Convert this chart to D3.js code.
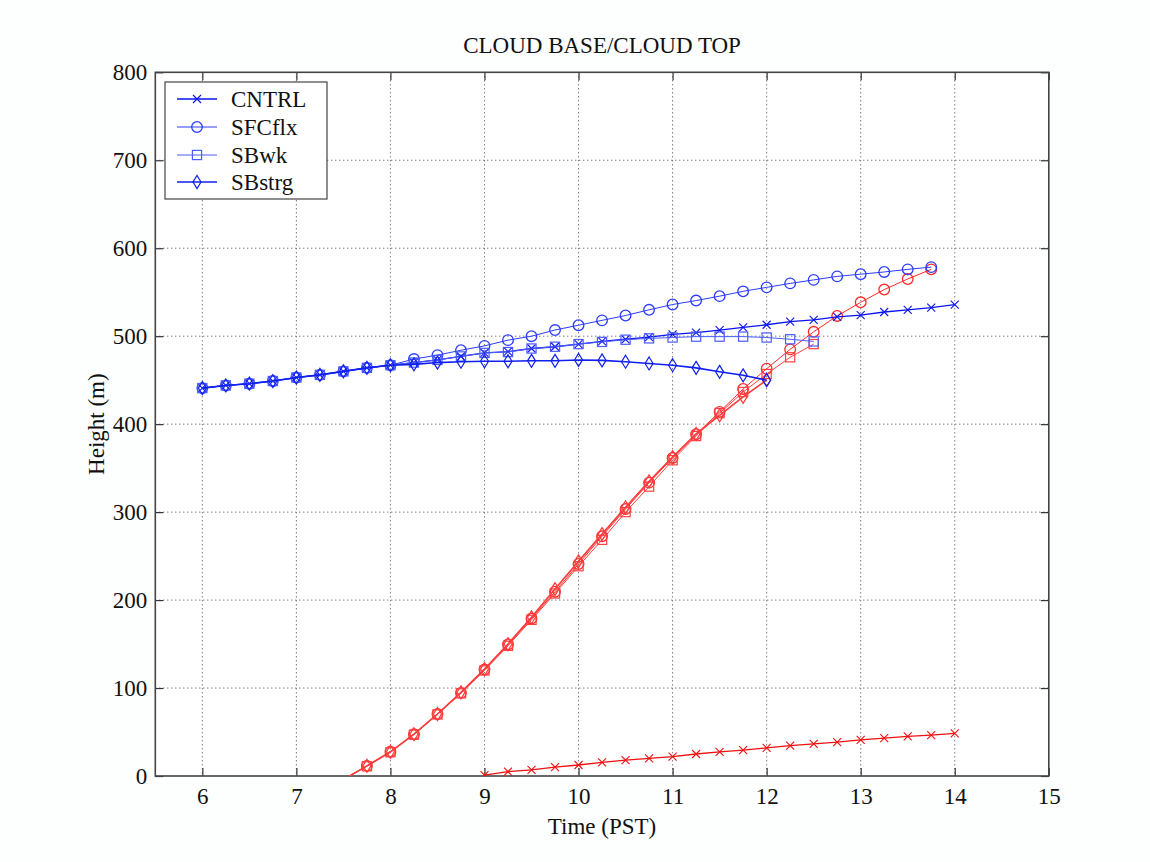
<!DOCTYPE html>
<html><head><meta charset="utf-8">
<script src="https://cdn.jsdelivr.net/npm/d3@7"></script>
<style>body{margin:0;background:#fdfefe}svg{display:block}</style>
</head><body><svg id="c" width="1150" height="862"></svg>
<script>
const times = [6,6.25,6.5,6.75,7,7.25,7.5,7.75,8,8.25,8.5,8.75,9,9.25,9.5,9.75,10,10.25,10.5,10.75,11,11.25,11.5,11.75,12,12.25,12.5,12.75,13,13.25,13.5,13.75,14];
const xTicks = [6,7,8,9,10,11,12,13,14,15];
const yTicks = [0,100,200,300,400,500,600,700,800];
const seriesNames = ["CNTRL","SFCflx","SBwk","SBstrg"];
const markers = ["x","o","s","d"];
const N = null;
// cloud top (blue)
const topCNTRL  = [441,444,446,449,453,456,460,464,467,470,473,477,481,482.5,486,488,491,494,496.5,499,502,504,507,510,513,516.5,518.5,522,524,527.5,530,532.5,536];
const topSFCflx = [441,444,446,449,453,456,460,464,467,474,478.5,484,489,495.5,500,507,512.5,518,523.5,530,536,540.5,545.5,551,555.5,560,564,568,570.5,573,576,578.5,N];
const topSBwk   = [441,444,446,449,453,456,460,464,467,470,473,477,481,482,486,488,491,493.5,496,497.5,498.5,499.5,499.5,499.5,498.5,496.5,494,N,N,N,N,N,N];
const topSBstrg = [441,444,446,449,453,456,460,464,467,468,470,471,471.5,471.5,472,472,473,472.5,471,469,467,464,459.5,455.5,450,N,N,N,N,N,N,N,N];
// cloud base (red)
const baseCNTRL  = [N,N,N,N,N,N,N,N,N,N,N,N,1,5,7,10,12.5,15.5,18,20,22,25,27.5,29.5,32,34.5,36.5,38.5,41,43,45,46.5,48.5];
const baseSFCflx = [N,N,N,N,N,N,-4,11.5,27.5,47.5,70.5,94.5,121,149.5,179,209.5,241,272.5,303.5,333.5,361.5,388.5,414,440,463,485,505,523,538.5,553,565,576,N];
const baseSBwk   = [N,N,N,N,N,N,-4,11,27,47,70,94,120,148,177.5,207.5,238.5,268.5,300,329,359,386.5,412.5,436.5,457,476,491,N,N,N,N,N,N];
const baseSBstrg = [N,N,N,N,N,N,-4,11.5,27.5,47.5,70.5,95,121.5,150,180.5,212.5,244,275,305.5,335,362.5,389,410,431,450,N,N,N,N,N,N,N,N];

const topSeries = [topCNTRL, topSFCflx, topSBwk, topSBstrg];
const baseSeries = [baseCNTRL, baseSFCflx, baseSBwk, baseSBstrg];
const blues = ["#0a14f0","#2b3cff","#4a5cff","#1020f0"];
const reds  = ["#f01010","#ff2a2a","#ff4040","#ff3a3a"];
const widths = [1.3,1,1,1.6];

const svg = d3.select("#c");
const L=155.3, R=1048.8, T=72.3, B=776;
const x = d3.scaleLinear().domain([5.5,15]).range([L,R]);
const y = d3.scaleLinear().domain([0,800]).range([B,T]);
const font = "'Liberation Serif','Times New Roman',serif";

svg.append("rect").attr("width",1150).attr("height",862).attr("fill","#fdfefe");
svg.append("rect").attr("x",L).attr("y",T).attr("width",R-L).attr("height",B-T).attr("fill","#ffffff");
svg.append("clipPath").attr("id","clip").append("rect").attr("x",L).attr("y",T).attr("width",R-L).attr("height",B-T);

// grid
const g = svg.append("g");
g.selectAll(".gx").data(xTicks.filter(t=>t<15)).join("line")
  .attr("x1",d=>x(d)).attr("x2",d=>x(d)).attr("y1",T).attr("y2",B)
  .attr("stroke","#444").attr("stroke-width",1).attr("stroke-dasharray","1,3");
g.selectAll(".gy").data(yTicks.filter(t=>t>0&&t<800)).join("line")
  .attr("y1",d=>y(d)).attr("y2",d=>y(d)).attr("x1",L).attr("x2",R)
  .attr("stroke","#444").attr("stroke-width",1).attr("stroke-dasharray","1,3");

// axes with inward ticks
const tk = 8;
const axB = svg.append("g").attr("transform",`translate(0,${B})`).call(d3.axisBottom(x).tickValues(xTicks).tickSize(-tk).tickPadding(12).tickFormat(d3.format("d")));
const axT = svg.append("g").attr("transform",`translate(0,${T})`).call(d3.axisTop(x).tickValues(xTicks).tickSize(-tk).tickFormat(""));
const axL = svg.append("g").attr("transform",`translate(${L},0)`).call(d3.axisLeft(y).tickValues(yTicks).tickSize(-tk).tickPadding(16).tickFormat(d3.format("d")));
const axR = svg.append("g").attr("transform",`translate(${R},0)`).call(d3.axisRight(y).tickValues(yTicks).tickSize(-tk).tickFormat(""));
[axB,axT,axL,axR].forEach(a=>{
  a.select(".domain").remove();
  a.selectAll(".tick line").attr("stroke","#333").attr("stroke-width",1.2);
  a.selectAll("text").attr("font-family",font).attr("font-size",23).attr("fill","#111");
});
axL.selectAll("text").attr("dx",8);
svg.append("rect").attr("x",L).attr("y",T).attr("width",R-L).attr("height",B-T)
  .attr("fill","none").attr("stroke","#444").attr("stroke-width",1.6);

// marker drawing
function drawMarker(sel, type, cx, cy, color){
  if(type==="x"){
    const s=4;
    sel.append("path").attr("d",`M${cx-s},${cy-s}L${cx+s},${cy+s}M${cx-s},${cy+s}L${cx+s},${cy-s}`)
      .attr("stroke",color).attr("stroke-width",1.1).attr("fill","none");
  } else if(type==="o"){
    sel.append("circle").attr("cx",cx).attr("cy",cy).attr("r",5.3)
      .attr("stroke",color).attr("stroke-width",1.3).attr("fill","none");
  } else if(type==="s"){
    const s=4.6;
    sel.append("rect").attr("x",cx-s).attr("y",cy-s).attr("width",2*s).attr("height",2*s)
      .attr("stroke",color).attr("stroke-width",1.2).attr("fill","none");
  } else {
    sel.append("path").attr("d",`M${cx},${cy-6.5}L${cx+4},${cy}L${cx},${cy+6.5}L${cx-4},${cy}Z`)
      .attr("stroke",color).attr("stroke-width",1.2).attr("fill","none");
  }
}

const plot = svg.append("g").attr("clip-path","url(#clip)");
const line = d3.line().defined(d=>d[1]!==null).x(d=>x(d[0])).y(d=>y(d[1]));
function drawSeries(vals, color, w, mk){
  const pts = times.map((t,i)=>[t,vals[i]]).filter(d=>d[1]!==null);
  plot.append("path").datum(pts).attr("d",line).attr("fill","none").attr("stroke",color).attr("stroke-width",w);
  const mg = plot.append("g");
  pts.filter(d=>d[1]>=0).forEach(d=>drawMarker(mg, mk, x(d[0]), y(d[1]), color));
}
baseSeries.forEach((s,i)=>drawSeries(s, reds[i], widths[i], markers[i]));
topSeries.forEach((s,i)=>drawSeries(s, blues[i], widths[i], markers[i]));

// title and labels
svg.append("text").attr("x",(L+R)/2).attr("y",53).attr("text-anchor","middle")
  .attr("font-family",font).attr("font-size",23).attr("fill","#111").text("CLOUD BASE/CLOUD TOP");
svg.append("text").attr("x",(L+R)/2).attr("y",834).attr("text-anchor","middle")
  .attr("font-family",font).attr("font-size",23).attr("fill","#111").text("Time (PST)");
svg.append("text").attr("transform",`translate(104,${(T+B)/2}) rotate(-90)`).attr("text-anchor","middle")
  .attr("font-family",font).attr("font-size",23).attr("fill","#111").text("Height (m)");

// legend
const lg = svg.append("g");
lg.append("rect").attr("x",165).attr("y",82).attr("width",162).attr("height",117)
  .attr("fill","#fff").attr("stroke","#444").attr("stroke-width",1.2);
const ly = [99,127,155,182];
seriesNames.forEach((n,i)=>{
  lg.append("line").attr("x1",177).attr("x2",217).attr("y1",ly[i]).attr("y2",ly[i])
    .attr("stroke",blues[i]).attr("stroke-width",widths[i]);
  drawMarker(lg, markers[i], 197, ly[i], blues[i]);
  lg.append("text").attr("x",231).attr("y",ly[i]+8).attr("font-family",font).attr("font-size",23)
    .attr("fill","#111").text(n);
});
</script></body></html>
